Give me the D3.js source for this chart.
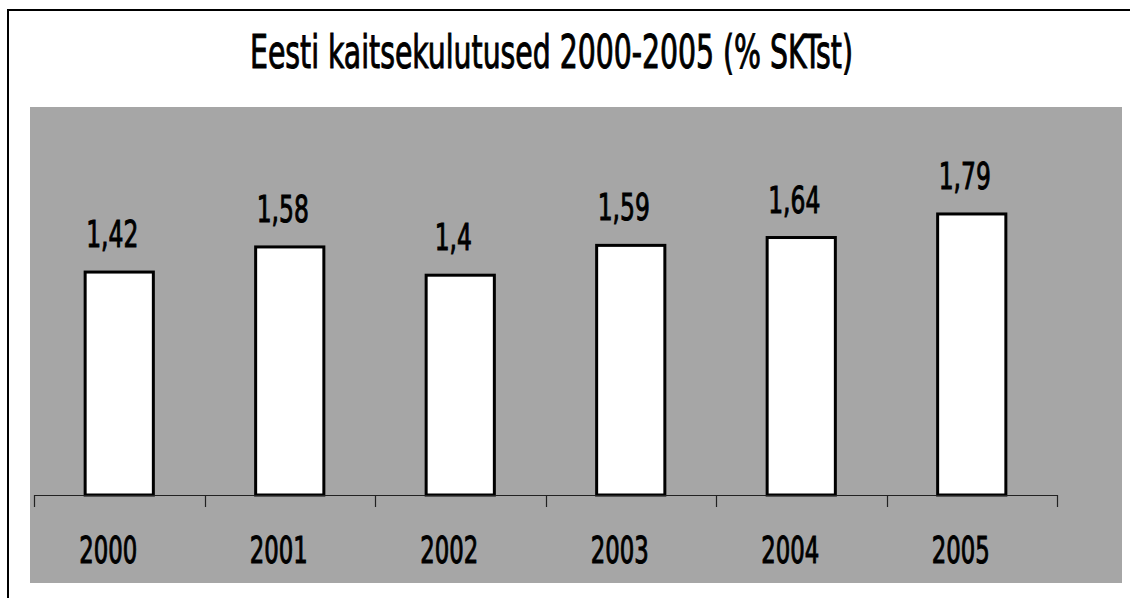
<!DOCTYPE html>
<html>
<head>
<meta charset="utf-8">
<script src="https://cdn.jsdelivr.net/npm/d3@7"></script>
<style>
  html, body { margin: 0; padding: 0; background: #ffffff; }
  svg { display: block; }
  text { font-family: "DejaVu Sans Condensed", "DejaVu Sans", sans-serif; font-weight: normal; fill: #000; stroke: #000; stroke-width: 1; }
</style>
</head>
<body>
<svg id="chart" width="1130" height="598"></svg>
<script>
const title = "Eesti kaitsekulutused 2000-2005 (% SKTst)";
const categories = ["2000", "2001", "2002", "2003", "2004", "2005"];
const values = [1.42, 1.58, 1.4, 1.59, 1.64, 1.79];
const valueLabels = ["1,42", "1,58", "1,4", "1,59", "1,64", "1,79"];

const W = 1130, H = 598;
const svg = d3.select("#chart");

// outer chart frame (top and left edges visible)
svg.append("path")
  .attr("d", `M8,${H} L8,10 L${W},10`)
  .attr("fill", "none").attr("stroke", "#000").attr("stroke-width", 2);

// plot area
svg.append("rect")
  .attr("x", 30).attr("y", 107).attr("width", 1092).attr("height", 476)
  .attr("fill", "#a6a6a6");

const x = d3.scaleBand().domain(categories).range([34, 1057]).paddingInner(0).paddingOuter(0);
const y = d3.scaleLinear().domain([0, 2.5]).range([495, 102.5]);

const barW = x.bandwidth() * 0.4;

// title (condensed face: natural width squeezed to the target width)
const titleText = svg.append("text")
  .attr("text-anchor", "middle")
  .attr("font-size", 46)
  .text(title);
const natural = titleText.node().getComputedTextLength();
const sx = 603 / natural;
titleText.attr("transform", `translate(551.5,68) scale(${sx},1)`);

// bars
svg.append("g").selectAll("rect").data(values).join("rect")
  .attr("x", (d, i) => x(categories[i]) + x.bandwidth() / 2 - barW / 2)
  .attr("y", d => y(d))
  .attr("width", barW)
  .attr("height", d => y(0) - y(d))
  .attr("fill", "#ffffff")
  .attr("stroke", "#000").attr("stroke-width", 3);

// x axis
const axis = d3.axisBottom(x).tickSize(12).tickFormat("");
const gx = svg.append("g").attr("transform", `translate(0,${y(0)})`).call(axis);
gx.select(".domain").attr("stroke", "#222").attr("stroke-width", 1.2).attr("d", `M34.5,0.5H1057`);
gx.selectAll(".tick").remove();
const bounds = categories.map(c => x(c)).concat([x.range()[1]]);
gx.selectAll("line.tk").data(bounds).join("line")
  .attr("class", "tk")
  .attr("x1", d => Math.round(d) + 0.5).attr("x2", d => Math.round(d) + 0.5)
  .attr("y1", 0).attr("y2", 12)
  .attr("stroke", "#222").attr("stroke-width", 1.2);

// category labels
svg.append("g").selectAll("text").data(categories).join("text")
  .attr("transform", c => `translate(${x(c) + x.bandwidth() / 2 - 11},563) scale(${sx},1)`)
  .attr("text-anchor", "middle")
  .attr("font-size", 37)
  .text(c => c);

// value labels
svg.append("g").selectAll("text").data(values).join("text")
  .attr("transform", (d, i) => `translate(${x(categories[i]) + x.bandwidth() / 2 - 7},${y(d) - 25}) scale(${sx},1)`)
  .attr("text-anchor", "middle")
  .attr("font-size", 38)
  .text((d, i) => valueLabels[i]);
</script>
</body>
</html>
